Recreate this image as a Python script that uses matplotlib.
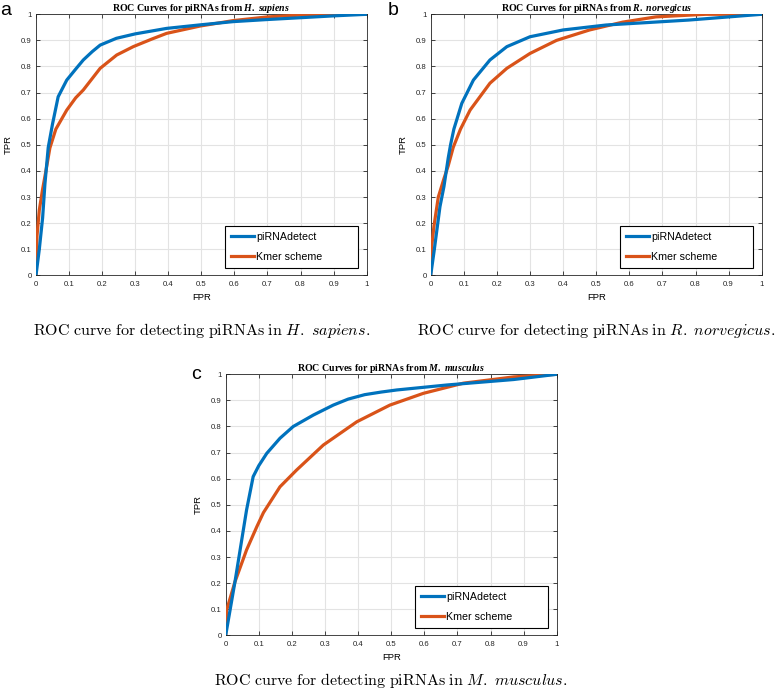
import matplotlib
matplotlib.use('Agg')
import matplotlib.pyplot as plt

# ROC points
hs_det_fpr = [0, 0.01, 0.02, 0.027, 0.037, 0.05, 0.067, 0.093, 0.12, 0.143, 0.17, 0.194, 0.243, 0.3, 0.395, 0.5, 0.597, 0.7, 0.8, 0.9, 1.0]
hs_det_tpr = [0, 0.10, 0.22, 0.35, 0.49, 0.58, 0.684, 0.748, 0.79, 0.825, 0.857, 0.882, 0.908, 0.925, 0.946, 0.96, 0.972, 0.98, 0.987, 0.994, 1.0]
hs_kmer_fpr = [0, 0.003, 0.01, 0.02, 0.03, 0.042, 0.06, 0.093, 0.12, 0.143, 0.194, 0.244, 0.294, 0.35, 0.395, 0.496, 0.597, 0.7, 0.8, 0.85, 1.0]
hs_kmer_tpr = [0, 0.15, 0.25, 0.33, 0.40, 0.488, 0.56, 0.633, 0.68, 0.71, 0.793, 0.844, 0.876, 0.905, 0.927, 0.955, 0.976, 0.99, 0.997, 1.0, 1.0]

rn_det_fpr = [0, 0.01, 0.028, 0.04, 0.053, 0.06, 0.07, 0.094, 0.129, 0.179, 0.23, 0.30, 0.40, 0.53, 0.65, 0.78, 0.9, 1.0]
rn_det_tpr = [0, 0.09, 0.263, 0.34, 0.45, 0.50, 0.56, 0.659, 0.748, 0.825, 0.876, 0.914, 0.94, 0.959, 0.968, 0.978, 0.99, 1.0]
rn_kmer_fpr = [0, 0.003, 0.01, 0.023, 0.04, 0.053, 0.068, 0.09, 0.119, 0.179, 0.23, 0.30, 0.38, 0.48, 0.58, 0.68, 0.83, 1.0]
rn_kmer_tpr = [0, 0.11, 0.19, 0.30, 0.37, 0.42, 0.49, 0.56, 0.633, 0.736, 0.793, 0.85, 0.90, 0.94, 0.97, 0.99, 1.0, 1.0]

mm_det_fpr = [0, 0.028, 0.063, 0.083, 0.1, 0.124, 0.164, 0.204, 0.265, 0.325, 0.37, 0.42, 0.47, 0.517, 0.668, 0.87, 1.0]
mm_det_tpr = [0, 0.205, 0.48, 0.608, 0.65, 0.697, 0.755, 0.80, 0.844, 0.882, 0.905, 0.922, 0.932, 0.94, 0.959, 0.98, 1.0]
mm_kmer_fpr = [0, 0.003, 0.028, 0.063, 0.094, 0.114, 0.164, 0.214, 0.295, 0.396, 0.496, 0.597, 0.718, 0.87, 1.0]
mm_kmer_tpr = [0, 0.097, 0.205, 0.327, 0.416, 0.47, 0.569, 0.633, 0.729, 0.818, 0.882, 0.927, 0.966, 0.99, 1.0]

species = ['H.\\ sapiens', 'R.\\ norvegicus', 'M.\\ musculus']
panel_letters = ['a', 'b', 'c']
series_names = ['piRNAdetect', 'Kmer scheme']
ticks = [0, 0.1, 0.2, 0.3, 0.4, 0.5, 0.6, 0.7, 0.8, 0.9, 1]
tick_labels = ['0', '0.1', '0.2', '0.3', '0.4', '0.5', '0.6', '0.7', '0.8', '0.9', '1']

plt.rcParams['font.family'] = 'sans-serif'
plt.rcParams['font.sans-serif'] = ['Liberation Sans']
plt.rcParams['mathtext.fontset'] = 'custom'
plt.rcParams['mathtext.rm'] = 'Liberation Serif:bold'
plt.rcParams['mathtext.it'] = 'Liberation Serif:italic:bold'

blue = '#0072BD'
orange = '#D95319'

fig = plt.figure(figsize=(7.78, 6.89), dpi=100)
W, H = 778.0, 689.0

# axes boxes in pixels: left, top, right, bottom
boxes = [(36, 14.3, 366.7, 275.3), (430.7, 14.3, 761.7, 275.3), (225.7, 374.3, 556.7, 635.3)]
letter_pos = [(0, 2), (388, 2), (191, 366)]
caption_base = [334.5, 334.5, 685]
data = [(hs_det_fpr, hs_det_tpr, hs_kmer_fpr, hs_kmer_tpr),
        (rn_det_fpr, rn_det_tpr, rn_kmer_fpr, rn_kmer_tpr),
        (mm_det_fpr, mm_det_tpr, mm_kmer_fpr, mm_kmer_tpr)]

for i in range(3):
    l, t, r, b = boxes[i]
    aw, ah = r - l, b - t
    ax = fig.add_axes([l / W, 1 - b / H, aw / W, ah / H])
    dfx, dfy, kx, ky = data[i]
    ax.plot(kx, ky, color=orange, lw=2.3, label=series_names[1], zorder=3)
    ax.plot(dfx, dfy, color=blue, lw=2.3, label=series_names[0], zorder=4)
    ax.set_xlim(0, 1)
    ax.set_ylim(0, 1)
    ax.set_xticks(ticks)
    ax.set_xticklabels(tick_labels)
    ax.set_yticks(ticks)
    ax.set_yticklabels(tick_labels)
    ax.tick_params(direction='in', length=3, width=0.6, labelsize=5.6,
                   top=True, right=True, colors='#262626')
    ax.tick_params(axis='x', pad=4)
    ax.tick_params(axis='y', pad=3)
    ax.grid(True, color='#e3e3e3', lw=0.8)
    ax.set_axisbelow(True)
    for s in ax.spines.values():
        s.set_color('#262626')
        s.set_linewidth(0.6)
    ax.set_xlabel('FPR', fontsize=6.8, va='top')
    ax.xaxis.set_label_coords(0.5, -17.5 / ah)
    ax.set_ylabel('TPR', fontsize=6.8)
    ax.yaxis.set_label_coords(-23 / aw, 0.5)
    ax.set_title(r'$\mathrm{ROC\ Curves\ for\ piRNAs\ from}\ \mathit{' + species[i] + '}$',
                 fontsize=7.15, pad=2.5)
    h, lab = ax.get_legend_handles_labels()
    leg = ax.legend(h[::-1], lab[::-1], loc='lower left',
                    bbox_to_anchor=(0.5715, 0.029, 0.402, 0.179), mode='expand',
                    borderaxespad=0, fancybox=False, edgecolor='black', fontsize=7.7,
                    handlelength=2.15, handletextpad=0.2, labelspacing=0.93,
                    borderpad=0.55, framealpha=1)
    leg.get_frame().set_linewidth(0.8)
    leg.set_zorder(10)
    fig.text((l + r) / 2 / W, 1 - caption_base[i] / H,
             r'$\mathrm{ROC\ curve\ for\ detecting\ piRNAs\ in}\ \mathit{' + species[i] + r'}\mathrm{.}$',
             ha='center', va='baseline', fontsize=11.5, math_fontfamily='cm')
    lx, ly = letter_pos[i]
    fig.text(lx / W, 1 - ly / H, panel_letters[i], ha='left', va='top', fontsize=14)

fig.savefig('out.png', dpi=100)
